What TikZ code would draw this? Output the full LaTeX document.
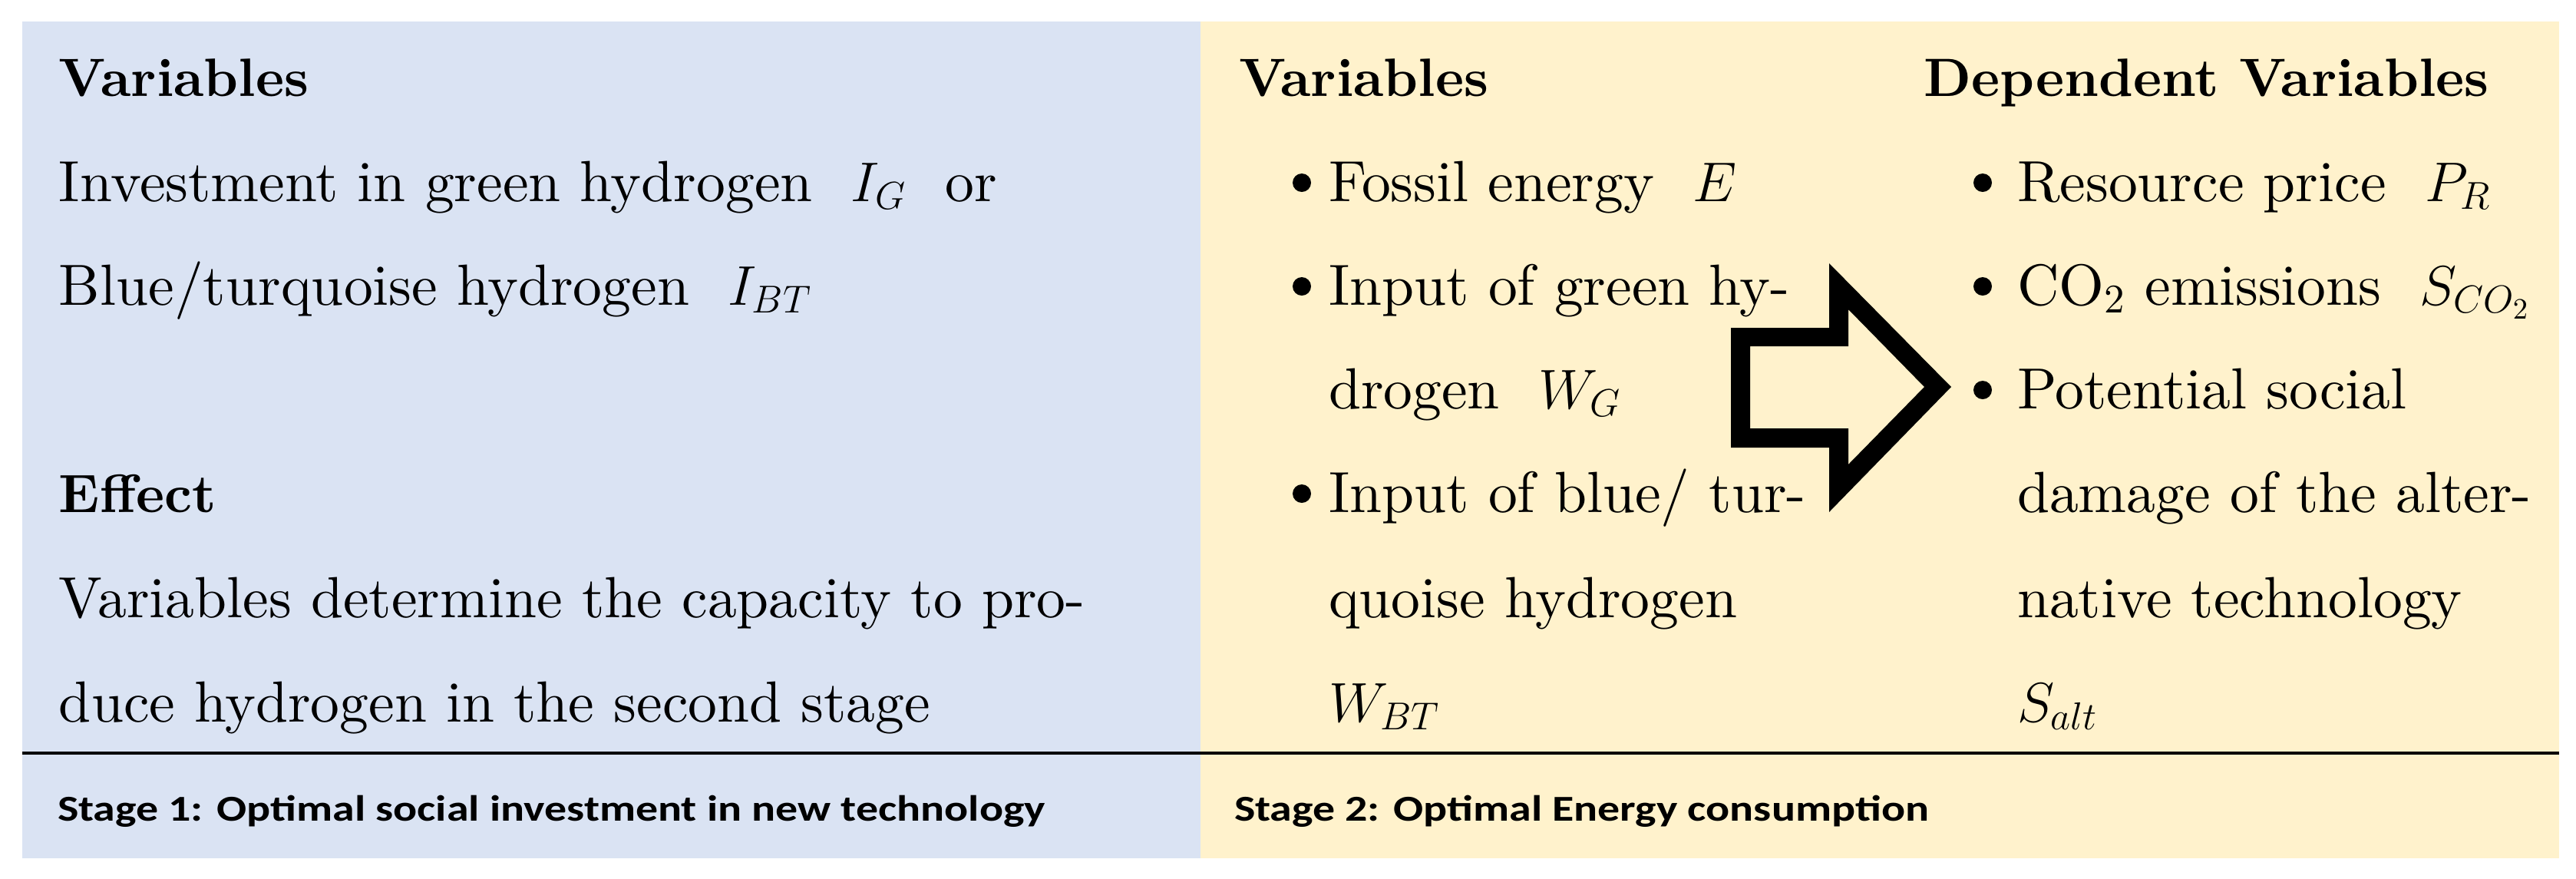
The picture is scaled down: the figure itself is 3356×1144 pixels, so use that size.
\documentclass[tikz,border=0pt]{standalone}
\usepackage{fontspec}
\setmainfont{lmroman10-regular.otf}[BoldFont=lmroman10-bold.otf, ItalicFont=lmroman10-italic.otf]
\newfontfamily\headfont{lmroman10-bold.otf}
\newfontfamily\calibri{Carlito}[FakeStretch=1.22]
\definecolor{panelblue}{HTML}{DAE3F3}
\definecolor{panelyellow}{HTML}{FFF2CC}
\tikzset{
  txt/.style={anchor=base west, inner sep=0pt, outer sep=0pt, font=\fontsize{21.5}{26}\selectfont},
  head/.style={anchor=base west, inner sep=0pt, outer sep=0pt, font=\headfont\fontsize{20}{26}\selectfont},
  stagelbl/.style={anchor=base west, inner sep=0pt, outer sep=0pt, font=\calibri\fontsize{13.5}{16}\selectfont\bfseries},
  dot/.style={circle, fill=black, draw=none, inner sep=0pt, minimum size=0.24cm},
}
\begin{document}
\begin{tikzpicture}[x=0.01cm, y=-0.01cm]
\useasboundingbox (0,0) rectangle (3356,1144);
\fill[white] (0,0) rectangle (3356,1144);
% panels
\fill[panelblue] (29,28) rectangle (1564,1118);
\fill[panelyellow] (1564,28) rectangle (3334,1118);
\draw[line width=0.04cm] (29,981) -- (3334,981);

% stage 1 column
\node[head] (v1) at (77,125) {Variables};
\node[txt] (l1) at (77,262) {Investment in green hydrogen\ \ $I_G$\ \ or};
\node[txt] (l2) at (77,397) {Blue/turquoise hydrogen\ \ $I_{BT}$};
\node[head] (ef) at (77,667) {Effect};
\node[txt] (l3) at (77,804) {Variables determine the capacity to pro-};
\node[txt] (l4) at (77,940) {duce hydrogen in the second stage};
\node[stagelbl] (s1) at (75,1069) {Stage 1: Optimal social investment in new technology};

% stage 2, variables
\node[head] (v2) at (1614,125) {Variables};
\node[dot] (d1) at (1696,238) {};
\node[txt] (a1) at (1731,262) {Fossil energy\ \ $E$};
\node[dot] (d2) at (1696,373) {};
\node[txt] (a2) at (1731,397) {Input of green hy-};
\node[txt] (a3) at (1731,532) {drogen\ \ $W_G$};
\node[dot] (d3) at (1696,643) {};
\node[txt] (a4) at (1731,667) {Input of blue/ tur-};
\node[txt] (a5) at (1731,804) {quoise hydrogen};
\node[txt] (a6) at (1731,940) {$W_{BT}$};

% dependent variables
\node[head] (dv) at (2506,125) {Dependent Variables};
\node[dot] (e1) at (2583,238) {};
\node[txt] (b1) at (2628,262) {Resource price\ \ $P_R$};
\node[dot] (e2) at (2583,373) {};
\node[txt] (b2) at (2628,397) {CO\textsubscript{2} emissions\ \ $S_{CO_2}$};
\node[dot] (e3) at (2583,508) {};
\node[txt] (b3) at (2628,532) {Potential social};
\node[txt] (b4) at (2628,667) {damage of the alter-};
\node[txt] (b5) at (2628,804) {native technology};
\node[txt] (b6) at (2628,940) {$S_{alt}$};

\node[stagelbl] (s2) at (1608,1069) {Stage 2: Optimal Energy consumption};

% block arrow (outline)
\fill[black, even odd rule]
  (2255,427) -- (2383,427) -- (2383,343) -- (2542,504) -- (2383,667) -- (2383,583) -- (2255,583) -- cycle
  (2280,451) -- (2408,451) -- (2408,403) -- (2507,504) -- (2408,605) -- (2408,558) -- (2280,558) -- cycle;
\end{tikzpicture}
\end{document}
